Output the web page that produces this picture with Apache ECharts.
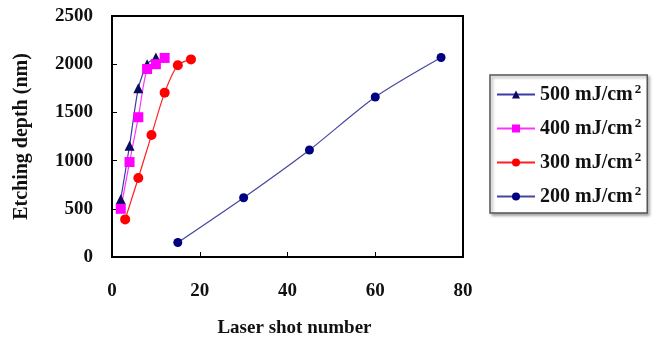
<!DOCTYPE html>
<html><head><meta charset="utf-8">
<script src="https://cdn.jsdelivr.net/npm/echarts@6/dist/echarts.min.js"></script>
<style>html,body{margin:0;padding:0;background:#fff}#c{width:667px;height:347px}</style>
</head><body><div id="c"></div>
<script>
const seriesNames = ['500 mJ/cm2', '400 mJ/cm2', '300 mJ/cm2', '200 mJ/cm2'];
const shots500 = [2, 4, 6, 8, 10];
const depth500 = [600, 1155, 1750, 2000, 2070];
const shots400 = [2, 4, 6, 8, 10, 12];
const depth400 = [500, 985, 1450, 1950, 2000, 2065];
const shots300 = [3, 6, 9, 12, 15, 18];
const depth300 = [390, 820, 1265, 1705, 1990, 2050];
const shots200 = [15, 30, 45, 60, 75];
const depth200 = [150, 615, 1110, 1660, 2070];
const xTicks = [0, 20, 40, 60, 80];
const yTicks = [0, 500, 1000, 1500, 2000, 2500];

const pair = (xs, ys) => xs.map((x, i) => [x, ys[i]]);
const font = 'Liberation Serif';
const chart = echarts.init(document.getElementById('c'), null, {renderer: 'canvas'});
const mk = (name, xs, ys, lineColor, markColor, symbol, size) => ({
  name, type: 'line', data: pair(xs, ys), smooth: 0.25,
  symbol, symbolSize: size,
  lineStyle: {color: lineColor, width: 1.2},
  itemStyle: {color: markColor},
  color: markColor
});
chart.setOption({
  animation: false,
  grid: {left: 112, top: 16, width: 351, height: 241, show: true, borderColor: '#000', borderWidth: 2, backgroundColor: 'transparent'},
  xAxis: {
    type: 'value', min: 0, max: 80, interval: 20,
    name: 'Laser shot number', nameLocation: 'middle', nameGap: 62,
    nameTextStyle: {fontFamily: font, fontWeight: 'bold', fontSize: 19, color: '#111', padding: [0, 0, 0, 14]},
    axisLine: {show: true, lineStyle: {color: '#000', width: 2}},
    axisTick: {show: true, inside: true, length: 5, lineStyle: {color: '#000', width: 1}},
    axisLabel: {fontFamily: font, fontWeight: 'bold', fontSize: 19, color: '#111', margin: 25,
      formatter: v => xTicks.includes(v) ? String(v) : ''},
    splitLine: {show: false}
  },
  yAxis: {
    type: 'value', min: 0, max: 2500, interval: 500,
    name: 'Etching depth (nm)', nameLocation: 'middle', nameGap: 80, nameRotate: 90,
    nameTextStyle: {fontFamily: font, fontWeight: 'bold', fontSize: 20, color: '#111'},
    axisLine: {show: true, lineStyle: {color: '#000', width: 2}},
    axisTick: {show: true, inside: true, length: 5, lineStyle: {color: '#000', width: 1}},
    axisLabel: {fontFamily: font, fontWeight: 'bold', fontSize: 19, color: '#111', margin: 19,
      formatter: v => yTicks.includes(v) ? String(v) : ''},
    splitLine: {show: false}
  },
  legend: {
    orient: 'vertical', left: 490, top: 75, width: 171,
    padding: [8, 6, 5, 6], itemGap: 11, itemWidth: 38, itemHeight: 10,
    backgroundColor: '#fff', borderColor: '#555', borderWidth: 1.5,
    shadowColor: 'rgba(0,0,0,0.35)', shadowBlur: 3, shadowOffsetX: 2, shadowOffsetY: 2,
    data: seriesNames,
    formatter: n => '{a|' + n.slice(0, -1) + '}{s|2}',
    textStyle: {
      rich: {
        a: {fontFamily: font, fontWeight: 'bold', fontSize: 20, color: '#111', lineHeight: 24},
        s: {fontFamily: font, fontWeight: 'bold', fontSize: 13, color: '#111', padding: [0, 0, 10, 2], lineHeight: 24}
      }
    }
  },
  series: [
    mk(seriesNames[0], shots500, depth500, '#3a3aa8', '#0a0a60', 'triangle', 10),
    mk(seriesNames[1], shots400, depth400, '#ff33ff', '#ff00ff', 'rect', 10),
    mk(seriesNames[2], shots300, depth300, '#ff2020', '#ff0000', 'circle', 10),
    mk(seriesNames[3], shots200, depth200, '#4646a0', '#000080', 'circle', 9)
  ]
});
</script></body></html>
